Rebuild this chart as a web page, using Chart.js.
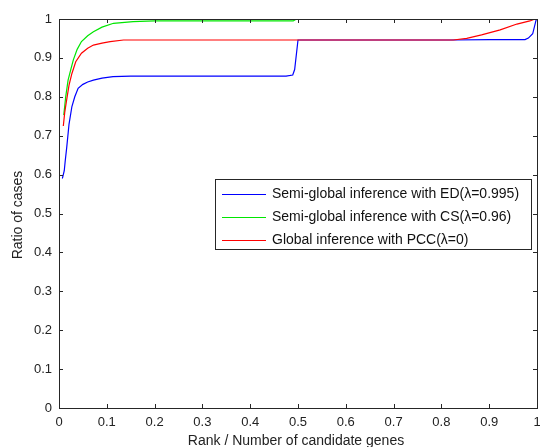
<!-- Chart.js from CDN -->
<script src="https://cdn.jsdelivr.net/npm/chart.js"></script>

<style>
  body { margin: 0; background: #fff; }
</style>

<canvas id="rankChart" width="540" height="447"></canvas>

<script>
  // ED curve (blue)
  const edX = [0.007, 0.009, 0.011, 0.013, 0.016, 0.021, 0.027, 0.033, 0.040, 0.050, 0.060, 0.072, 0.090, 0.113, 0.150, 0.300, 0.475, 0.489, 0.493, 0.500, 0.700, 0.820, 0.900, 0.975, 0.982, 0.991, 0.998, 1.000];
  const edY = [0.590, 0.600, 0.610, 0.635, 0.668, 0.730, 0.775, 0.800, 0.822, 0.832, 0.838, 0.843, 0.848, 0.852, 0.853, 0.853, 0.853, 0.856, 0.870, 0.946, 0.946, 0.946, 0.947, 0.947, 0.951, 0.962, 0.997, 1.000];

  // CS curve (green)
  const csX = [0.010, 0.014, 0.019, 0.025, 0.030, 0.038, 0.047, 0.060, 0.072, 0.090, 0.114, 0.155, 0.200, 0.350, 0.490, 0.497, 1.000];
  const csY = [0.753, 0.800, 0.843, 0.872, 0.895, 0.922, 0.942, 0.957, 0.967, 0.979, 0.989, 0.993, 0.995, 0.995, 0.995, 1.000, 1.000];

  // PCC curve (red)
  const pccX = [0.009, 0.012, 0.016, 0.021, 0.027, 0.035, 0.047, 0.060, 0.072, 0.090, 0.107, 0.135, 0.200, 0.500, 0.825, 0.853, 0.884, 0.923, 0.958, 0.985, 0.996, 1.000];
  const pccY = [0.725, 0.760, 0.792, 0.830, 0.860, 0.890, 0.912, 0.925, 0.933, 0.938, 0.942, 0.946, 0.946, 0.946, 0.946, 0.950, 0.959, 0.972, 0.987, 0.995, 1.000, 1.000];

  const seriesNames = [
    'Semi-global inference with ED(\u03bb=0.995)',
    'Semi-global inference with CS(\u03bb=0.96)',
    'Global inference with PCC(\u03bb=0)'
  ];
  const seriesColors = ['#0000ff', '#00e600', '#ff0000'];

  const xTitle = 'Rank / Number of candidate genes';
  const yTitle = 'Ratio of cases';

  function toPoints(xs, ys) {
    return xs.map((x, i) => ({ x: x, y: ys[i] }));
  }

  const FONT = '14px "Liberation Sans", Arial, sans-serif';

  // matlab-ish box, inward ticks, axis titles and legend
  const matlabFrame = {
    id: 'matlabFrame',
    afterDraw(chart) {
      const ctx = chart.ctx;
      const a = chart.chartArea;
      const xs = chart.scales.x;
      const ys = chart.scales.y;
      ctx.save();
      ctx.strokeStyle = '#262626';
      ctx.lineWidth = 1;
      ctx.strokeRect(Math.round(a.left) + 0.5, Math.round(a.top) + 0.5,
        Math.round(a.right - a.left), Math.round(a.bottom - a.top));

      const tl = 4;
      ctx.beginPath();
      xs.ticks.forEach(t => {
        const px = Math.round(xs.getPixelForValue(t.value)) + 0.5;
        ctx.moveTo(px, a.bottom); ctx.lineTo(px, a.bottom - tl);
        ctx.moveTo(px, a.top); ctx.lineTo(px, a.top + tl);
      });
      ys.ticks.forEach(t => {
        const py = Math.round(ys.getPixelForValue(t.value)) + 0.5;
        ctx.moveTo(a.left, py); ctx.lineTo(a.left + tl, py);
        ctx.moveTo(a.right, py); ctx.lineTo(a.right - tl, py);
      });
      ctx.stroke();

      // axis titles
      ctx.fillStyle = '#222';
      ctx.font = FONT;
      ctx.textAlign = 'center';
      ctx.textBaseline = 'middle';
      ctx.fillText(xTitle, 296, 441);
      ctx.save();
      ctx.translate(18, 215);
      ctx.rotate(-Math.PI / 2);
      ctx.fillText(yTitle, 0, 0);
      ctx.restore();

      // legend box
      const bx = 215.5, by = 179.5, bw = 316, bh = 70;
      ctx.fillStyle = '#fff';
      ctx.fillRect(bx, by, bw, bh);
      ctx.strokeStyle = '#262626';
      ctx.strokeRect(bx, by, bw, bh);
      ctx.textAlign = 'left';
      seriesNames.forEach((name, i) => {
        const yy = 194 + i * 23;
        ctx.strokeStyle = seriesColors[i];
        ctx.lineWidth = 1.2;
        ctx.beginPath();
        ctx.moveTo(222, yy + 0.5);
        ctx.lineTo(266, yy + 0.5);
        ctx.stroke();
        ctx.fillStyle = '#111';
        ctx.fillText(name, 272, yy);
      });
      ctx.restore();
    }
  };

  const ctx = document.getElementById('rankChart').getContext('2d');

  new Chart(ctx, {
    type: 'line',
    data: {
      datasets: [
        { label: seriesNames[0], data: toPoints(edX, edY), borderColor: seriesColors[0], order: 2 },
        { label: seriesNames[1], data: toPoints(csX, csY), borderColor: seriesColors[1], order: 1 },
        { label: seriesNames[2], data: toPoints(pccX, pccY), borderColor: seriesColors[2], order: 0 }
      ]
    },
    options: {
      responsive: false,
      animation: false,
      elements: {
        point: { radius: 0 },
        line: { borderWidth: 1.2, tension: 0, fill: false }
      },
      layout: { padding: { top: 19, right: 3, left: 0, bottom: 0 } },
      plugins: {
        legend: { display: false },
        tooltip: { enabled: false }
      },
      scales: {
        x: {
          type: 'linear',
          min: 0,
          max: 1,
          grid: { display: false, drawTicks: false },
          border: { display: false },
          ticks: {
            stepSize: 0.1,
            padding: 7,
            color: '#222',
            font: { family: '"Liberation Sans", Arial, sans-serif', size: 13 },
            maxRotation: 0,
            callback: v => String(+v.toFixed(1))
          },
          afterFit: s => { s.height = 39; s.paddingLeft = 0; s.paddingRight = 0; }
        },
        y: {
          min: 0,
          max: 1,
          grid: { display: false, drawTicks: false },
          border: { display: false },
          ticks: {
            stepSize: 0.1,
            padding: 7,
            color: '#222',
            font: { family: '"Liberation Sans", Arial, sans-serif', size: 13 },
            callback: v => String(+v.toFixed(1))
          },
          afterFit: s => { s.width = 59; s.paddingTop = 0; s.paddingBottom = 0; }
        }
      }
    },
    plugins: [matlabFrame]
  });
</script>
